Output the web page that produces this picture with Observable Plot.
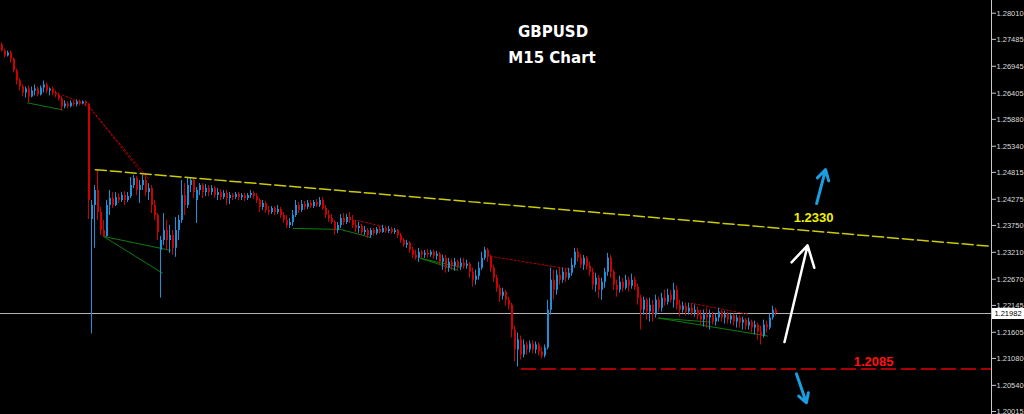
<!DOCTYPE html>
<html><head><meta charset="utf-8">
<script src="https://cdn.jsdelivr.net/npm/d3@7"></script>
<script src="https://cdn.jsdelivr.net/npm/@observablehq/plot@0.6"></script>
<style>
html,body{margin:0;padding:0;background:#000;overflow:hidden}
#wrap{position:relative;width:1024px;height:414px}
#pricebox{position:absolute;left:992px;width:32px;height:11px;background:#fff;color:#000;font:7.5px "Liberation Sans",Arial,sans-serif;line-height:11px;text-align:center}
</style></head><body>
<div id="wrap"><div id="chart"></div><div id="pricebox"></div></div>
<script>
// ---- data (GBPUSD M15 candles, index = bar number) ----
const opens = [1.2737,1.2725,1.2715,1.2721,1.2709,1.2685,1.2665,1.2653,1.2641,1.2649,
1.2633,1.2645,1.2649,1.2637,1.2651,1.2657,1.2645,1.2649,1.2641,1.2637,
1.2629,1.2613,1.2619,1.2613,1.2621,1.2617,1.2623,1.2619,1.2623,1.2619,
1.2387,1.2415,1.2445,1.2401,1.2365,1.2353,1.2415,1.2429,1.2415,1.2431,
1.2425,1.2435,1.2425,1.2433,1.2455,1.2469,1.2445,1.2455,1.2465,1.2441,
1.2449,1.2415,1.2395,1.2325,1.2345,1.2365,1.2345,1.2355,1.2329,1.2365,
1.2385,1.2435,1.2415,1.2455,1.2465,1.2425,1.2445,1.2455,1.2441,1.2449,
1.2441,1.2449,1.2435,1.2441,1.2431,1.2439,1.2429,1.2435,1.2431,1.2437,
1.2431,1.2435,1.2429,1.2435,1.2439,1.2433,1.2425,1.2411,1.2419,1.2405,
1.2401,1.2409,1.2401,1.2407,1.2395,1.2385,1.2375,1.2381,1.2395,1.2415,
1.2405,1.2417,1.2411,1.2419,1.2413,1.2421,1.2415,1.2425,1.2409,1.2395,
1.2389,1.2381,1.2365,1.2375,1.2389,1.2381,1.2391,1.2385,1.2375,1.2369,
1.2373,1.2361,1.2365,1.2355,1.2365,1.2359,1.2367,1.2361,1.2369,1.2363,
1.2367,1.2361,1.2365,1.2355,1.2345,1.2335,1.2339,1.2325,1.2315,1.2309,
1.2321,1.2315,1.2319,1.2315,1.2321,1.2313,1.2317,1.2301,1.2309,1.2289,
1.2301,1.2293,1.2301,1.2291,1.2299,1.2293,1.2297,1.2281,1.2265,1.2273,
1.2289,1.2309,1.2325,1.2311,1.2289,1.2269,1.2249,1.2233,1.2241,1.2225,
1.2215,1.2165,1.2125,1.2145,1.2115,1.2135,1.2125,1.2137,1.2125,1.2135,
1.2121,1.2113,1.2129,1.2205,1.2265,1.2245,1.2275,1.2265,1.2281,1.2269,
1.2279,1.2295,1.2321,1.2309,1.2295,1.2309,1.2293,1.2281,1.2255,1.2269,
1.2245,1.2261,1.2281,1.2309,1.2281,1.2255,1.2245,1.2261,1.2249,1.2265,
1.2253,1.2265,1.2251,1.2229,1.2205,1.2225,1.2201,1.2215,1.2195,1.2225,
1.2209,1.2229,1.2221,1.2235,1.2225,1.2245,1.2215,1.2205,1.2213,1.2201,
1.2209,1.2199,1.2205,1.2193,1.2185,1.2195,1.2189,1.2195,1.2181,1.2189,
1.2201,1.2189,1.2195,1.2185,1.2193,1.2181,1.2189,1.2179,1.2185,1.2173,
1.2181,1.2169,1.2175,1.2161,1.2153,1.2175,1.2169,1.2189,1.2205];
const highs = [1.2741,1.2729,1.2725,1.2725,1.2711,1.2689,1.2669,1.2657,1.2653,1.2655,
1.2653,1.2657,1.2653,1.2655,1.2665,1.2661,1.2651,1.2653,1.2645,1.2641,
1.2633,1.2625,1.2623,1.2625,1.2625,1.2627,1.2627,1.2625,1.2625,1.2619,
1.2425,1.2455,1.2487,1.2411,1.2385,1.2425,1.2445,1.2441,1.2441,1.2439,
1.2441,1.2443,1.2441,1.2471,1.2475,1.2473,1.2465,1.2475,1.2479,1.2459,
1.2455,1.2425,1.2399,1.2353,1.2399,1.2385,1.2375,1.2365,1.2391,1.2395,
1.2465,1.2459,1.2469,1.2469,1.2469,1.2451,1.2459,1.2459,1.2457,1.2455,
1.2455,1.2453,1.2449,1.2447,1.2445,1.2445,1.2441,1.2439,1.2441,1.2441,
1.2439,1.2439,1.2439,1.2445,1.2443,1.2439,1.2429,1.2425,1.2423,1.2413,
1.2413,1.2413,1.2415,1.2411,1.2401,1.2395,1.2389,1.2405,1.2425,1.2421,
1.2425,1.2423,1.2425,1.2425,1.2425,1.2427,1.2431,1.2431,1.2415,1.2405,
1.2397,1.2385,1.2381,1.2397,1.2399,1.2397,1.2401,1.2395,1.2385,1.2381,
1.2377,1.2373,1.2369,1.2369,1.2369,1.2371,1.2373,1.2375,1.2373,1.2373,
1.2371,1.2369,1.2367,1.2359,1.2349,1.2345,1.2343,1.2331,1.2325,1.2329,
1.2325,1.2325,1.2327,1.2325,1.2325,1.2323,1.2321,1.2315,1.2315,1.2309,
1.2307,1.2309,1.2305,1.2309,1.2309,1.2305,1.2301,1.2289,1.2285,1.2301,
1.2321,1.2331,1.2329,1.2315,1.2295,1.2275,1.2255,1.2249,1.2245,1.2231,
1.2219,1.2173,1.2159,1.2153,1.2145,1.2141,1.2143,1.2143,1.2141,1.2139,
1.2129,1.2135,1.2225,1.2289,1.2285,1.2285,1.2289,1.2289,1.2289,1.2289,
1.2309,1.2329,1.2329,1.2317,1.2315,1.2313,1.2301,1.2289,1.2279,1.2275,
1.2269,1.2289,1.2319,1.2315,1.2285,1.2265,1.2273,1.2269,1.2275,1.2271,
1.2277,1.2271,1.2257,1.2235,1.2231,1.2229,1.2229,1.2225,1.2235,1.2231,
1.2239,1.2245,1.2247,1.2245,1.2259,1.2253,1.2225,1.2221,1.2219,1.2219,
1.2217,1.2215,1.2211,1.2205,1.2205,1.2209,1.2205,1.2201,1.2197,1.2209,
1.2205,1.2203,1.2201,1.2199,1.2197,1.2195,1.2193,1.2191,1.2189,1.2189,
1.2185,1.2183,1.2179,1.2173,1.2185,1.2183,1.2197,1.2213,1.2209];
const lows = [1.2723,1.2711,1.2713,1.2701,1.2681,1.2657,1.2645,1.2633,1.2631,1.2621,
1.2631,1.2635,1.2633,1.2635,1.2641,1.2639,1.2635,1.2635,1.2631,1.2625,
1.2605,1.2609,1.2609,1.2611,1.2613,1.2613,1.2615,1.2617,1.2613,1.2387,
1.2157,1.2329,1.2385,1.2355,1.2351,1.2351,1.2395,1.2409,1.2413,1.2419,
1.2421,1.2415,1.2421,1.2429,1.2449,1.2435,1.2419,1.2445,1.2433,1.2425,
1.2399,1.2385,1.2345,1.2229,1.2335,1.2325,1.2319,1.2315,1.2311,1.2345,
1.2379,1.2395,1.2409,1.2441,1.2429,1.2379,1.2435,1.2429,1.2433,1.2433,
1.2435,1.2429,1.2425,1.2425,1.2427,1.2415,1.2417,1.2425,1.2427,1.2425,
1.2425,1.2423,1.2425,1.2429,1.2427,1.2419,1.2401,1.2405,1.2399,1.2395,
1.2397,1.2395,1.2397,1.2389,1.2379,1.2369,1.2369,1.2373,1.2391,1.2399,
1.2401,1.2405,1.2407,1.2409,1.2409,1.2411,1.2411,1.2405,1.2389,1.2381,
1.2377,1.2355,1.2359,1.2369,1.2375,1.2377,1.2379,1.2369,1.2361,1.2359,
1.2355,1.2355,1.2349,1.2349,1.2353,1.2355,1.2357,1.2359,1.2359,1.2359,
1.2357,1.2357,1.2349,1.2339,1.2331,1.2329,1.2319,1.2309,1.2305,1.2301,
1.2309,1.2309,1.2309,1.2311,1.2307,1.2305,1.2295,1.2285,1.2279,1.2281,
1.2285,1.2283,1.2285,1.2285,1.2287,1.2287,1.2269,1.2251,1.2255,1.2265,
1.2285,1.2305,1.2301,1.2281,1.2261,1.2241,1.2221,1.2225,1.2213,1.2205,
1.2149,1.2101,1.2091,1.2105,1.2109,1.2115,1.2119,1.2117,1.2117,1.2113,
1.2107,1.2109,1.2125,1.2195,1.2225,1.2235,1.2255,1.2259,1.2261,1.2265,
1.2273,1.2289,1.2301,1.2289,1.2285,1.2285,1.2273,1.2245,1.2241,1.2229,
1.2225,1.2249,1.2273,1.2269,1.2245,1.2231,1.2239,1.2241,1.2245,1.2241,
1.2247,1.2245,1.2215,1.2165,1.2195,1.2185,1.2181,1.2181,1.2189,1.2201,
1.2201,1.2213,1.2215,1.2219,1.2209,1.2205,1.2191,1.2199,1.2193,1.2195,
1.2193,1.2191,1.2185,1.2175,1.2171,1.2169,1.2165,1.2175,1.2173,1.2181,
1.2181,1.2177,1.2177,1.2177,1.2173,1.2169,1.2169,1.2165,1.2165,1.2165,
1.2159,1.2155,1.2145,1.2135,1.2149,1.2159,1.2165,1.2185,1.2193];
const closes = [1.2725,1.2715,1.2721,1.2709,1.2685,1.2665,1.2653,1.2641,1.2649,1.2633,
1.2645,1.2649,1.2637,1.2651,1.2657,1.2645,1.2649,1.2641,1.2637,1.2629,
1.2613,1.2619,1.2613,1.2621,1.2617,1.2623,1.2619,1.2623,1.2619,1.2425,
1.2415,1.2445,1.2401,1.2365,1.2353,1.2415,1.2429,1.2415,1.2431,1.2425,
1.2435,1.2425,1.2433,1.2455,1.2469,1.2445,1.2455,1.2465,1.2441,1.2449,
1.2415,1.2395,1.2361,1.2345,1.2365,1.2345,1.2355,1.2329,1.2365,1.2385,
1.2435,1.2415,1.2455,1.2465,1.2441,1.2445,1.2455,1.2441,1.2449,1.2441,
1.2449,1.2435,1.2441,1.2431,1.2439,1.2429,1.2435,1.2431,1.2437,1.2431,
1.2435,1.2429,1.2435,1.2439,1.2433,1.2425,1.2411,1.2419,1.2405,1.2401,
1.2409,1.2401,1.2407,1.2395,1.2385,1.2375,1.2381,1.2395,1.2415,1.2405,
1.2417,1.2411,1.2419,1.2413,1.2421,1.2415,1.2425,1.2409,1.2395,1.2389,
1.2381,1.2365,1.2375,1.2389,1.2381,1.2391,1.2385,1.2375,1.2369,1.2373,
1.2361,1.2365,1.2355,1.2365,1.2359,1.2367,1.2361,1.2369,1.2363,1.2367,
1.2361,1.2365,1.2355,1.2345,1.2335,1.2339,1.2325,1.2315,1.2309,1.2321,
1.2315,1.2319,1.2315,1.2321,1.2313,1.2317,1.2301,1.2309,1.2289,1.2301,
1.2293,1.2301,1.2291,1.2299,1.2293,1.2297,1.2281,1.2265,1.2273,1.2289,
1.2309,1.2325,1.2311,1.2289,1.2269,1.2249,1.2233,1.2241,1.2225,1.2215,
1.2165,1.2125,1.2145,1.2115,1.2135,1.2125,1.2137,1.2125,1.2135,1.2121,
1.2113,1.2129,1.2205,1.2265,1.2245,1.2275,1.2265,1.2281,1.2269,1.2279,
1.2295,1.2321,1.2309,1.2295,1.2309,1.2293,1.2281,1.2255,1.2269,1.2245,
1.2261,1.2281,1.2309,1.2281,1.2255,1.2245,1.2261,1.2249,1.2265,1.2253,
1.2265,1.2251,1.2229,1.2205,1.2225,1.2201,1.2215,1.2195,1.2225,1.2209,
1.2229,1.2221,1.2235,1.2225,1.2245,1.2215,1.2205,1.2213,1.2201,1.2209,
1.2199,1.2205,1.2193,1.2185,1.2195,1.2189,1.2195,1.2181,1.2189,1.2201,
1.2189,1.2195,1.2185,1.2193,1.2181,1.2189,1.2179,1.2185,1.2173,1.2181,
1.2169,1.2175,1.2161,1.2153,1.2175,1.2169,1.2189,1.2205,1.2198];

const priceTicks = [1.28010,1.27485,1.26945,1.26405,1.25880,1.25340,1.24815,1.24275,1.23750,1.23210,1.22670,1.22145,1.21605,1.21080,1.20540,1.20015];
const currentPrice = 1.21982;
const priceRange = [1.19955, 1.28265];
const barRange = [-1/3, 330];

// analysis drawings: [bar index, price]
const resistanceLine = [[31.3, 1.2487], [330, 1.2333]];
const supportLevel = [[173.3, 1.2087], [330, 1.2087]];
const redTrendLines = [
  [[20.3, 1.2637], [29.0, 1.2615]],
  [[29.0, 1.2615], [47.3, 1.2475]],
  [[29.0, 1.2615], [49.0, 1.2469]],
  [[118.7, 1.2385], [127.0, 1.2373]],
  [[163.0, 1.2313], [189.7, 1.2287]],
  [[229.7, 1.2219], [248.7, 1.2197]]
];
const greenTrendLines = [
  [[8.7, 1.2621], [20.3, 1.2607]],
  [[34.0, 1.2353], [56.3, 1.2325]],
  [[34.0, 1.2353], [53.7, 1.2279]],
  [[97.3, 1.2369], [113.0, 1.2367], [123.0, 1.2351]],
  [[139.7, 1.2309], [152.0, 1.2285]],
  [[139.7, 1.2309], [153.0, 1.2291]],
  [[219.0, 1.2189], [255.3, 1.2153]],
  [[219.0, 1.2189], [236.3, 1.2181]]
];
const arrowsWhite = [{i1: 261.0, p1: 1.2141, i2: 268.7, p2: 1.2335}];
const arrowsBlue = [
  {i1: 271.7, p1: 1.2419, i2: 274.7, p2: 1.2487},
  {i1: 265.0, p1: 1.2077, i2: 268.3, p2: 1.2019}
];
const levelLabels = [
  {i: 270.7, p: 1.2391, text: "1.2330", color: "#f0f000"},
  {i: 290.7, p: 1.2101, text: "1.2085", color: "#ff1010"}
];
const titleLines = ["GBPUSD", "M15 Chart"];

const UP = "#1e90d8", DOWN = "#d00000";
const candles = opens.map((o, k) => ({i: k, o, h: highs[k], l: lows[k], c: closes[k]}));
const col = d => d.c >= d.o ? UP : DOWN;

const toRows = (seg, id) => seg.map(([i, p]) => ({i, p, id}));
const redRows = redTrendLines.flatMap((s, k) => toRows(s, k));
const greenRows = greenTrendLines.flatMap((s, k) => toRows(s, k));

const chart = Plot.plot({
  width: 1024, height: 414,
  marginLeft: 0, marginRight: 33, marginTop: 0, marginBottom: 0,
  style: {background: "#000", color: "#dcdcdc", fontFamily: "'Liberation Sans', Arial, sans-serif", fontSize: "7.5px"},
  x: {type: "linear", domain: barRange, axis: null},
  y: {domain: priceRange, axis: null},
  marks: [
    Plot.ruleY([currentPrice], {stroke: "#b4b4b4", strokeWidth: 1}),
    Plot.line(greenRows, {x: "i", y: "p", z: "id", stroke: "#0b7d0b", strokeWidth: 1}),
    Plot.line(redRows, {x: "i", y: "p", z: "id", stroke: "#b00000", strokeWidth: 1, strokeDasharray: "2,2"}),
    Plot.ruleX(candles, {x: "i", y1: "l", y2: "h", stroke: col, strokeWidth: 1}),
    Plot.ruleX(candles, {x: "i", y1: "o", y2: "c", stroke: col, strokeWidth: 2, dx: 0.5}),
    Plot.line(toRows(resistanceLine, 0), {x: "i", y: "p", stroke: "#cccc00", strokeWidth: 1.5, strokeDasharray: "11,4"}),
    Plot.line(toRows(supportLevel, 0), {x: "i", y: "p", stroke: "#e00000", strokeWidth: 1.5, strokeDasharray: "14,6"}),
    Plot.arrow(arrowsWhite, {x1: "i1", y1: "p1", x2: "i2", y2: "p2", stroke: "#ffffff", strokeWidth: 2.5, headLength: 14}),
    Plot.arrow(arrowsBlue, {x1: "i1", y1: "p1", x2: "i2", y2: "p2", stroke: "#1b9ee0", strokeWidth: 3, headLength: 11}),
    Plot.text(levelLabels, {x: "i", y: "p", text: "text", fill: "color", fontSize: 13, fontWeight: "bold", fontFamily: "'Liberation Sans', Arial, sans-serif"}),
    Plot.text([titleLines[0]], {frameAnchor: "top", dx: 57, dy: 36, lineAnchor: "bottom", fill: "#fff", fontSize: 15, fontWeight: "bold", fontFamily: "'DejaVu Sans', sans-serif"}),
    Plot.text([titleLines[1]], {frameAnchor: "top", dx: 56, dy: 62, lineAnchor: "bottom", fill: "#fff", fontSize: 15, fontWeight: "bold", fontFamily: "'DejaVu Sans', sans-serif"}),
    Plot.ruleX([barRange[1]], {stroke: "#c8c8c8", strokeWidth: 1}),
    Plot.axisY({anchor: "right", ticks: priceTicks, tickFormat: d => d.toFixed(5), tickSize: 4, tickPadding: 1, stroke: "#c8c8c8", fill: "#dcdcdc"})
  ]
});
document.getElementById("chart").appendChild(chart);
const box = document.getElementById("pricebox");
const yc = chart.scale("y").apply(currentPrice);
box.style.top = (yc - 5.5) + "px";
box.textContent = currentPrice.toFixed(5);
</script>
</body></html>
